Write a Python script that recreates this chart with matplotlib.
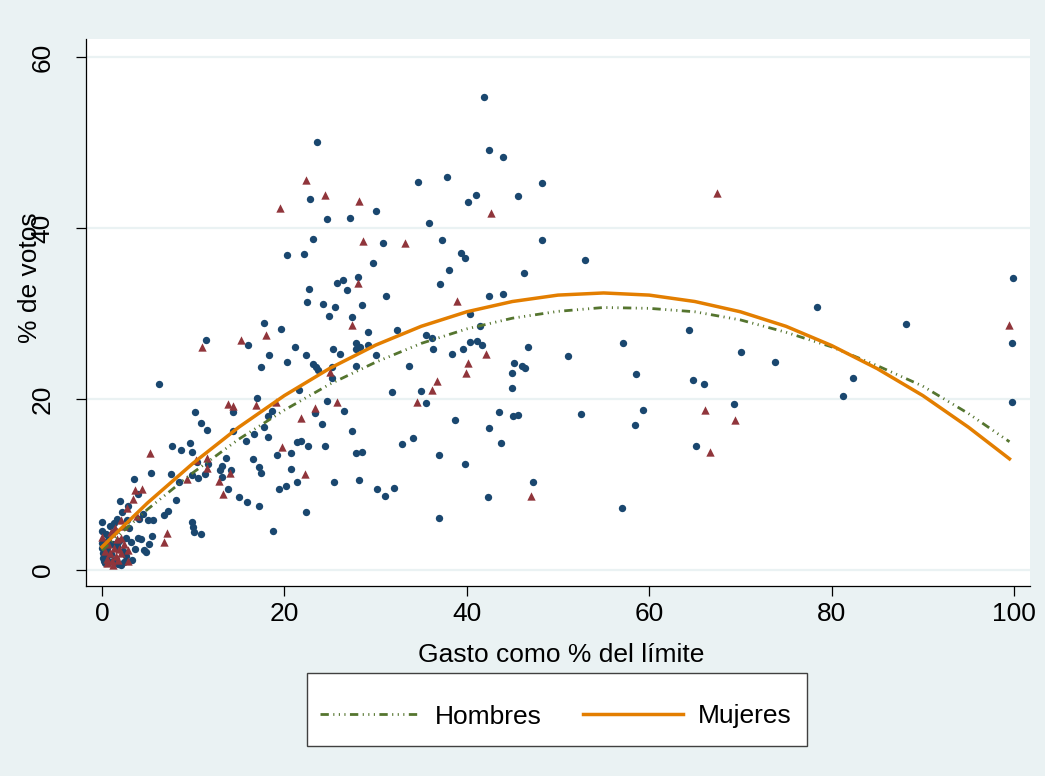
import matplotlib
matplotlib.use('Agg')
import matplotlib.pyplot as plt
from matplotlib.patches import Rectangle

plt.rcParams['font.family'] = ['Liberation Sans', 'DejaVu Sans']

# ---------------- data ----------------
hombres_x = [
    # right part
    53.0, 99.9, 78.4, 88.1, 99.8, 64.4, 57.1, 51.1, 70.1, 73.8, 58.5, 64.8, 66.0, 82.3, 81.3, 99.8,
    52.5, 59.3, 58.4, 69.3, 65.1, 57.0,
    # 35-50
    41.9, 42.4, 44.0, 37.8, 48.2, 41.0, 40.1, 45.6, 35.9, 37.3, 48.2, 39.4, 39.8, 38.0, 37.1, 46.3,
    42.4, 44.0, 40.3, 41.4, 35.5, 36.2, 40.4, 41.1, 36.3, 41.7, 39.6, 38.4, 46.7, 45.2, 46.0, 46.4,
    45.0, 45.0, 35.0, 35.5, 43.5, 45.1, 45.6, 38.7, 42.4, 43.7, 37.0, 39.8, 47.3, 42.3, 36.9,
    # 18-35
    23.6, 22.8, 34.6, 30.1, 24.7, 27.2, 23.1, 30.8, 20.3, 22.2, 29.7, 28.1, 26.4, 25.8, 26.9, 22.7,
    31.1, 22.5, 24.2, 25.6, 28.5, 24.9, 27.4, 19.6, 32.4, 29.2, 21.2, 22.4, 20.3, 25.3, 26.1, 27.8,
    28.3, 27.9, 29.2, 30.0, 33.7, 23.1, 23.5, 23.7, 25.2, 27.9, 25.2, 21.6, 31.8, 24.7, 23.4, 26.5,
    24.1, 27.4, 34.1, 21.4, 21.8, 22.6, 24.5, 32.9, 19.2, 20.7, 27.9, 28.5, 20.7, 21.4, 25.4, 28.2,
    19.4, 20.2, 30.2, 32.0, 31.0, 18.75, 22.4,
    # 5-18
    17.8, 11.4, 16.0, 18.35, 17.4, 6.2, 17.0, 14.4, 10.2, 18.6, 18.2, 10.9, 11.5, 17.8, 14.4, 16.7,
    15.8, 18.2, 7.7, 9.6, 8.7, 9.9, 13.6, 16.6, 10.4, 11.6, 13.2, 12.9, 14.2, 17.2, 17.4, 5.4,
    7.6, 9.9, 10.5, 11.3, 13.2, 8.4, 13.8, 15.0, 8.1, 15.9, 17.2,
    # 0-10
    3.5, 4.0, 2.0, 2.85, 4.5, 7.2, 6.8, 5.0, 5.6, 4.1, 9.9, 10.0, 10.1, 10.9, 5.5, 3.95,
    4.3, 4.85, 4.6, 5.2, 0.0, 0.0, 1.35, 2.7, 1.45, 3.0, 2.6, 2.1, 0.0, 0.0, 0.1, 0.1,
    0.2, 0.3, 0.5, 0.6, 0.7, 0.8, 1.0, 1.1, 1.2, 1.6, 1.8, 1.9, 2.3, 3.3, 2.4, 1.2,
    0.4, 0.9, 1.7, 2.2, 3.6, 3.2, 0.3, 1.5, 2.6,
]
hombres_y = [
    36.3, 34.1, 30.7, 28.8, 26.5, 28.1, 26.5, 25.0, 25.5, 24.3, 22.9, 22.2, 21.7, 22.4, 20.3, 19.6,
    18.3, 18.7, 17.0, 19.4, 14.5, 7.3,
    55.3, 49.1, 48.3, 46.0, 45.3, 43.8, 43.0, 43.7, 40.6, 38.6, 38.6, 37.1, 36.5, 35.1, 33.5, 34.7,
    32.1, 32.3, 29.9, 28.5, 27.5, 27.1, 26.7, 26.8, 25.8, 26.3, 25.8, 25.3, 26.1, 24.2, 23.9, 23.6,
    23.0, 21.3, 20.9, 19.5, 18.5, 18.0, 18.1, 17.5, 16.6, 14.85, 13.4, 12.4, 10.3, 8.5, 6.1,
    50.0, 43.4, 45.4, 42.0, 41.1, 41.2, 38.7, 38.3, 36.8, 37.0, 35.9, 34.3, 33.9, 33.6, 32.8, 32.9,
    32.0, 31.3, 31.1, 30.7, 31.0, 29.75, 29.55, 28.2, 28.1, 27.8, 26.1, 25.1, 24.3, 25.8, 25.3, 26.5,
    26.1, 25.9, 26.35, 25.1, 23.8, 24.1, 23.7, 23.4, 23.7, 23.8, 22.5, 21.1, 20.8, 19.8, 18.4, 18.6,
    17.1, 16.2, 15.4, 15.0, 15.05, 14.5, 14.5, 14.7, 13.45, 13.65, 13.7, 13.8, 11.8, 10.3, 10.3, 10.5,
    9.5, 9.8, 9.5, 9.55, 8.6, 4.55, 6.8,
    28.85, 26.9, 26.3, 25.1, 23.7, 21.75, 20.1, 18.5, 18.5, 18.6, 18.05, 17.2, 16.4, 16.7, 16.2, 15.9,
    15.1, 15.5, 14.5, 14.8, 14.0, 13.8, 13.1, 12.95, 12.6, 12.4, 12.2, 11.7, 11.7, 12.1, 11.35, 11.35,
    11.2, 11.15, 10.8, 11.2, 10.9, 10.3, 9.5, 8.5, 8.2, 7.9, 7.5,
    10.6, 8.85, 8.1, 7.5, 6.55, 6.9, 6.4, 5.8, 5.8, 6.0, 5.65, 5.0, 4.5, 4.2, 4.0, 3.7,
    3.6, 2.1, 2.3, 3.1, 5.6, 4.6, 5.5, 5.85, 4.6, 4.9, 3.7, 0.6, 3.2, 2.6, 2.0, 1.4,
    1.0, 0.8, 1.6, 2.4, 3.5, 0.9, 1.9, 4.2, 1.1, 2.8, 0.7, 3.4, 2.2, 1.2, 0.9, 3.0,
    4.2, 5.1, 6.0, 6.8, 2.5, 3.3, 3.0, 1.3, 1.6,
]

mujeres_x = [
    67.4, 99.5, 66.1, 69.4, 66.7,
    42.6, 38.9, 42.1, 40.1, 39.9, 36.7, 36.2, 47.0,
    22.4, 24.4, 28.2, 19.5, 28.6, 33.2, 28.1, 27.4, 25.0, 34.5, 25.8, 23.4, 21.8, 19.7, 22.3,
    11.0, 15.2, 18.0, 19.1, 13.8, 14.4, 16.9, 5.3, 11.5, 10.3, 11.5, 14.0, 9.35, 12.8, 13.3,
    3.6, 4.35, 3.4, 2.7, 3.8, 2.1, 2.45, 7.1, 6.8, 0.0, 2.9, 2.9, 2.05, 2.4, 2.1,
    0.3, 0.5, 0.7, 0.9, 1.1, 1.3, 1.5, 1.6, 1.8, 1.0, 1.4, 0.6, 1.9, 1.2,
]
mujeres_y = [
    44.1, 28.6, 18.7, 17.5, 13.8,
    41.7, 31.5, 25.3, 24.2, 23.0, 22.1, 21.0, 8.6,
    45.6, 43.8, 43.1, 42.3, 38.5, 38.2, 33.6, 28.7, 23.1, 19.7, 19.7, 19.0, 17.8, 14.4, 11.2,
    26.1, 26.9, 27.45, 19.65, 19.4, 19.2, 19.3, 13.65, 13.05, 12.9, 11.9, 11.3, 10.6, 10.4, 8.9,
    9.4, 9.5, 8.3, 7.2, 6.3, 5.85, 5.15, 4.35, 3.3, 3.9, 2.3, 1.1, 3.7, 3.0, 1.95,
    2.2, 1.3, 3.0, 2.0, 1.0, 2.6, 1.6, 3.6, 1.2, 4.4, 4.9, 0.8, 2.4, 0.6,
]

# fitted curves
fit_x = [0, 5, 10, 15, 20, 25, 30, 35, 40, 45, 50, 55, 60, 65, 70, 75, 80, 85, 90, 95, 99.5]
fit_hombres = [2.3, 7.1, 11.4, 15.3, 18.7, 21.75, 24.3, 26.5, 28.2, 29.45, 30.25, 30.7, 30.6,
               30.2, 29.25, 27.8, 26.1, 23.9, 21.5, 18.3, 15.0]
fit_mujeres = [2.7, 7.85, 12.5, 16.7, 20.4, 23.6, 26.3, 28.5, 30.2, 31.4, 32.15, 32.4, 32.15,
               31.4, 30.2, 28.5, 26.25, 23.55, 20.4, 16.7, 13.0]

xticks = [0, 20, 40, 60, 80, 100]
yticks = [0, 20, 40, 60]
series_labels = ['Hombres', 'Mujeres']

# ---------------- style ----------------
BG = '#eaf2f3'
NAVY = '#1a476f'
MAROON = '#90353b'
GREEN = '#55752f'
ORANGE = '#e37e00'
FS = 19

W, H = 1045, 776
fig = plt.figure(figsize=(W / 100, H / 100), dpi=100, facecolor=BG)
left, right, top, bottom = 86, 1030, 39, 586
ax = fig.add_axes([left / W, 1 - bottom / H, (right - left) / W, (bottom - top) / H])
ax.set_facecolor('white')
ax.set_xlim(-1.75, 101.75)
ax.set_ylim(-1.87, 62.1)

for yv in yticks:
    ax.axhline(yv, color=BG, lw=1.6, zorder=0.5)

ax.scatter(hombres_x, hombres_y, s=28, marker='o', color=NAVY, linewidths=0, zorder=2)
ax.scatter(mujeres_x, mujeres_y, s=36, marker='^', color=MAROON, linewidths=0, zorder=3)

l1, = ax.plot(fit_x, fit_hombres, color=GREEN, lw=2.0,
              linestyle=(0, (3.0, 1.6, 0.4, 1.6, 0.4, 1.6, 0.4, 1.6)), zorder=4,
              solid_capstyle='butt', dash_capstyle='butt')
l2, = ax.plot(fit_x, fit_mujeres, color=ORANGE, lw=2.5, zorder=5)

for s in ['top', 'right']:
    ax.spines[s].set_visible(False)
for s in ['left', 'bottom']:
    ax.spines[s].set_color('black')
    ax.spines[s].set_linewidth(0.9)

ax.set_xticks(xticks)
ax.set_xticklabels([str(v) for v in xticks], fontsize=FS)
ax.set_yticks(yticks)
ax.set_yticklabels([str(v) for v in yticks], fontsize=FS, rotation=90, va='center')
ax.tick_params(axis='x', length=7.5, width=0.9, pad=4, colors='black')
ax.tick_params(axis='y', length=7.5, width=0.9, pad=15, colors='black')

fig.text(561.5 / W, 1 - 655 / H, 'Gasto como % del límite', ha='center', va='center', fontsize=FS)
fig.text(30 / W, 1 - 278 / H, '% de votos', ha='center', va='center', rotation=90, fontsize=FS)

# legend box
fig.patches.append(Rectangle((307 / W, 1 - 746 / H), 500 / W, 73 / H, transform=fig.transFigure,
                             facecolor='white', edgecolor='#404040', lw=1.0, zorder=1))
leg = fig.legend([l1, l2], series_labels, loc='center', bbox_to_anchor=(556 / W, 1 - 716.5 / H),
                 ncol=2, frameon=False, fontsize=FS, handlelength=3.77, handletextpad=0.6,
                 columnspacing=1.55, borderpad=0)
leg.set_zorder(3)

fig.savefig('out.png', dpi=100, facecolor=BG)
